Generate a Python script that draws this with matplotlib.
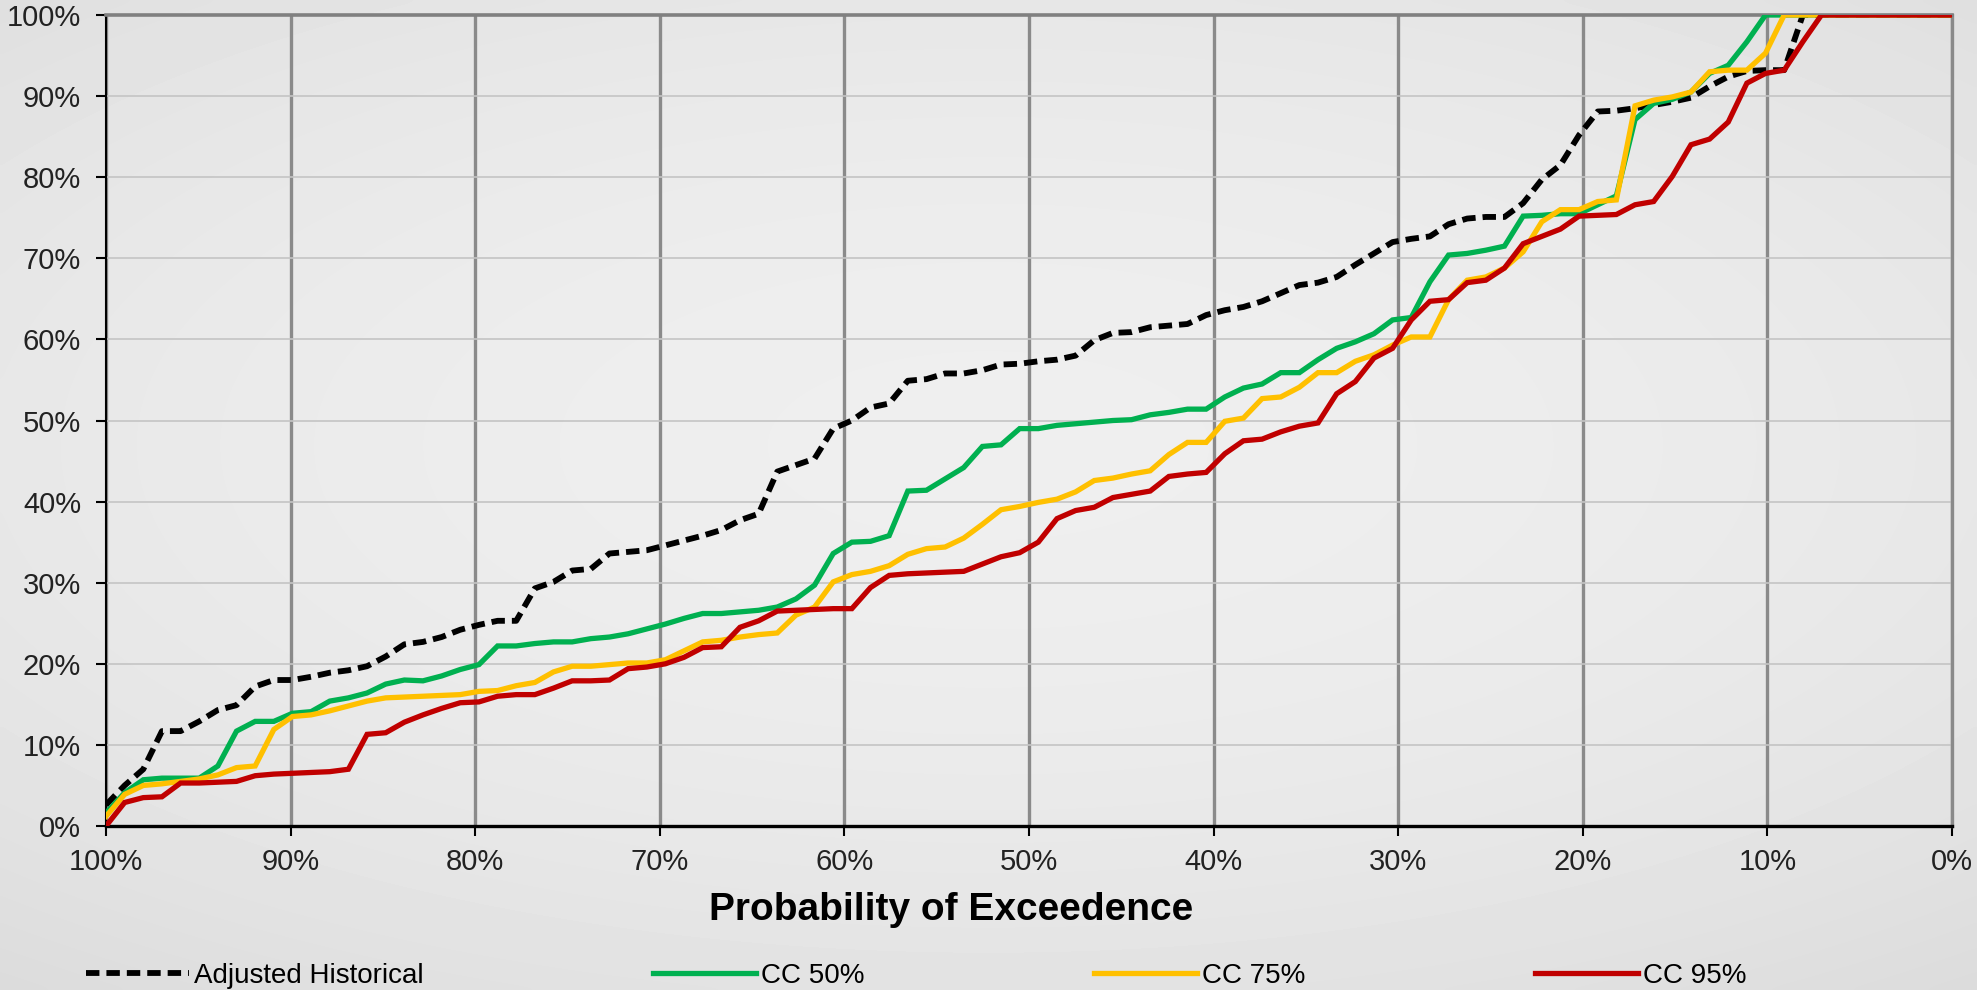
"""
Exceedance curves - adjusted historical vs climate change scenarios.
Values read off the reference chart, ranked from 100% to 0% exceedance.
"""

import numpy as np
import matplotlib
matplotlib.use("Agg")
import matplotlib.pyplot as plt
from matplotlib.ticker import FuncFormatter

plt.rcParams['font.family'] = ['Liberation Sans', 'DejaVu Sans']

# ranked values (%), one per plotting position
adjusted_historical = [
    2.6, 5.0, 7.0, 11.7, 11.7, 12.9, 14.3, 14.9, 17.2, 18.0, 18.0, 18.4, 18.9, 19.2, 19.7, 20.9, 22.4, 22.7, 23.3, 24.2, 24.8,
    25.3, 25.3, 29.3, 30.1, 31.5, 31.7, 33.6, 33.8, 34.0, 34.6, 35.2, 35.8, 36.5, 37.7, 38.5, 43.7, 44.5, 45.3, 49.0, 50.0,
    51.6, 52.1, 54.9, 55.1, 55.8, 55.8, 56.2, 56.9, 57.0, 57.3, 57.5, 58.0, 59.9, 60.8, 60.9, 61.5, 61.7, 61.9, 63.0,
    63.6, 64.0, 64.7, 65.7, 66.7, 67.0, 67.7, 69.2, 70.6, 72.0, 72.4, 72.7, 74.2, 74.9, 75.1, 75.1, 76.8, 79.7, 81.5, 85.2,
    88.1, 88.2, 88.5, 88.9, 89.3, 89.8, 91.2, 92.4, 93.1, 93.2, 93.2, 100, 100, 100, 100, 100, 100, 100, 100, 100,
]
cc_50 = [
    1.6, 4.1, 5.7, 5.9, 5.9, 5.9, 7.4, 11.7, 12.9, 12.9, 13.9, 14.1, 15.4, 15.8, 16.4, 17.5, 18.0, 17.9, 18.5, 19.3, 19.9,
    22.2, 22.2, 22.5, 22.7, 22.7, 23.1, 23.3, 23.7, 24.3, 24.9, 25.6, 26.2, 26.2, 26.4, 26.6, 27.0, 28.0, 29.7, 33.6, 35.0,
    35.1, 35.8, 41.3, 41.4, 42.8, 44.2, 46.8, 47.0, 49.0, 49.0, 49.4, 49.6, 49.8, 50.0, 50.1, 50.7, 51.0, 51.4, 51.4,
    52.9, 54.0, 54.5, 55.9, 55.9, 57.5, 58.9, 59.7, 60.7, 62.4, 62.7, 67.1, 70.4, 70.6, 71.0, 71.5, 75.2, 75.3, 75.5, 75.5,
    76.6, 77.7, 87.1, 89.1, 89.6, 90.5, 92.8, 93.8, 96.7, 100, 100, 100, 100, 100, 100, 100, 100, 100, 100, 100,
]
cc_75 = [
    1.2, 3.9, 5.0, 5.2, 5.5, 5.8, 6.3, 7.2, 7.4, 11.9, 13.5, 13.7, 14.2, 14.8, 15.4, 15.8, 15.9, 16.0, 16.1, 16.2, 16.6,
    16.7, 17.3, 17.7, 19.0, 19.7, 19.7, 19.9, 20.1, 20.1, 20.5, 21.6, 22.7, 22.9, 23.3, 23.6, 23.8, 26.0, 27.0, 30.1, 31.0,
    31.4, 32.1, 33.5, 34.2, 34.4, 35.5, 37.2, 39.0, 39.4, 39.9, 40.3, 41.2, 42.6, 42.9, 43.4, 43.8, 45.8, 47.3, 47.3,
    49.9, 50.3, 52.7, 52.9, 54.1, 55.9, 55.9, 57.3, 58.1, 59.3, 60.3, 60.3, 64.9, 67.3, 67.7, 68.8, 70.8, 74.5, 76.0, 76.0,
    77.0, 77.2, 88.8, 89.5, 89.9, 90.5, 93.0, 93.2, 93.2, 95.3, 100, 100, 100, 100, 100, 100, 100, 100, 100, 100,
]
cc_95 = [
    0.0, 2.9, 3.5, 3.6, 5.3, 5.3, 5.4, 5.5, 6.2, 6.4, 6.5, 6.6, 6.7, 7.0, 11.3, 11.5, 12.8, 13.7, 14.5, 15.2, 15.3,
    16.0, 16.2, 16.2, 17.0, 17.9, 17.9, 18.0, 19.4, 19.6, 20.0, 20.8, 22.0, 22.1, 24.5, 25.3, 26.5, 26.6, 26.7, 26.8, 26.8,
    29.4, 30.9, 31.1, 31.2, 31.3, 31.4, 32.3, 33.2, 33.7, 35.0, 37.9, 38.9, 39.3, 40.5, 40.9, 41.3, 43.1, 43.4, 43.6,
    45.9, 47.5, 47.7, 48.6, 49.3, 49.7, 53.3, 54.8, 57.7, 58.9, 62.4, 64.7, 64.9, 67.0, 67.3, 68.8, 71.8, 72.7, 73.6, 75.2,
    75.3, 75.4, 76.6, 77.0, 80.1, 84.0, 84.7, 86.8, 91.6, 92.8, 93.2, 96.7, 100, 100, 100, 100, 100, 100, 100, 100,
]

series_labels = ["Adjusted Historical", "CC 50%", "CC 75%", "CC 95%"]
series_colors = ["black", "#00B050", "#FFC000", "#C00000"]
x_ticks = [100, 90, 80, 70, 60, 50, 40, 30, 20, 10, 0]
y_ticks = [0, 10, 20, 30, 40, 50, 60, 70, 80, 90, 100]

# plotting position for ranked data: 100% ... 0%
n = len(cc_50)
exceedance = 100 * (1 - np.arange(n) / (n - 1))

fig = plt.figure(figsize=(19.77, 9.9), dpi=100)

# soft radial grey background
bg = fig.add_axes([0, 0, 1, 1], zorder=0)
gx, gy = np.meshgrid(np.linspace(0, 1, 400), np.linspace(0, 1, 200))
r2 = ((gx - 0.5) / 0.7) ** 2 + ((gy - 0.55) / 0.6) ** 2
bg.imshow(0.935 - 0.055 * r2, cmap='gray', vmin=0, vmax=1, aspect='auto',
          extent=[0, 1, 0, 1], origin='lower', interpolation='bicubic')
bg.axis('off')

ax = fig.add_axes([106 / 1977, 1 - 826 / 990, 1846 / 1977, 811 / 990], zorder=1)
ax.set_facecolor('none')

all_series = [adjusted_historical, cc_50, cc_75, cc_95]
lines = []
for vals, label, color in zip(all_series, series_labels, series_colors):
    if label == "Adjusted Historical":
        ln, = ax.plot(exceedance, vals, color=color, lw=4.2, dashes=(2.3, 1.2),
                      label=label, zorder=3)
    else:
        ln, = ax.plot(exceedance, vals, color=color, lw=3.8, label=label,
                      solid_joinstyle='miter', zorder=3)
    lines.append(ln)

ax.set_xlim(100, 0)
ax.set_ylim(0, 100)
ax.set_xticks(x_ticks)
ax.set_yticks(y_ticks)
fmt = FuncFormatter(lambda v, pos: f"{v:.0f}%")
ax.xaxis.set_major_formatter(fmt)
ax.yaxis.set_major_formatter(fmt)

# grid: dark verticals, light horizontals
for xv in x_ticks:
    ax.axvline(xv, color='#8a8a8a', lw=2.4, zorder=1)
for yv in y_ticks:
    ax.axhline(yv, color='#c4c4c4', lw=1.2, zorder=1)

ax.spines['left'].set_color('black')
ax.spines['left'].set_linewidth(1.5)
ax.spines['bottom'].set_color('black')
ax.spines['bottom'].set_linewidth(2.4)
ax.spines['top'].set_color('#808080')
ax.spines['top'].set_linewidth(2.6)
ax.spines['right'].set_color('#8a8a8a')
ax.spines['right'].set_linewidth(2.4)

ax.tick_params(axis='x', direction='out', length=7, width=1.5, pad=9,
               labelsize=21, colors='black')
ax.tick_params(axis='y', direction='out', length=7, width=1.5, pad=11,
               labelsize=21, colors='black')
for lbl in ax.get_xticklabels() + ax.get_yticklabels():
    lbl.set_color('#222222')

ax.set_xlabel("Probability of Exceedence", fontsize=28, fontweight='bold',
              color='black')
ax.xaxis.set_label_coords(0.458, -0.081)

fig.legend(handles=lines, labels=series_labels, ncol=4, frameon=False,
           fontsize=20, loc='center left', bbox_to_anchor=(86 / 1977, 0.014),
           borderpad=0, borderaxespad=0, handlelength=3.7, handletextpad=0.2,
           columnspacing=8.25)

fig.savefig("out.png", dpi=100)
